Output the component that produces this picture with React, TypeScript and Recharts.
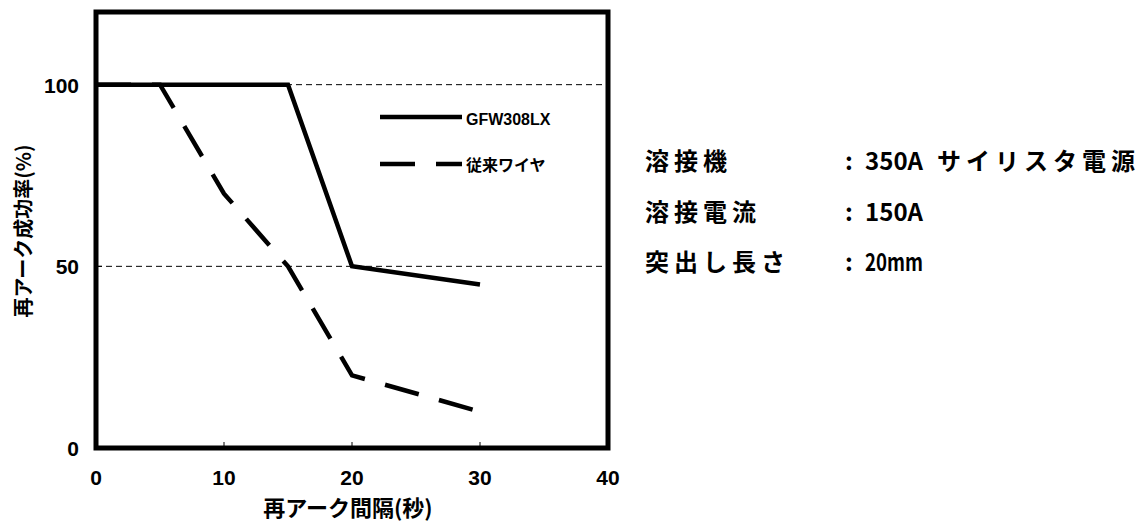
import React from 'react';
import {
  LineChart,
  Line,
  XAxis,
  YAxis,
  CartesianGrid,
  ReferenceArea,
  Legend,
  Label,
} from 'recharts';

// ---- data ----
const intervals = [0, 5, 10, 15, 20, 30];
const gfwValues = [100, 100, 100, 100, 50, 45];
const conventionalValues = [100, 100, 70, 50, 20, 10];
const xTicks = [0, 10, 20, 30, 40];
const yTicks = [0, 50, 100];
const seriesNames = ['GFW308LX', '従来ワイヤ'];
const noteLabels = ['溶接機', '溶接電流', '突出し長さ'];
const noteValues = ['350A', '150A', '20mm'];
const noteSuffix = ['サイリスタ電源', '', ''];

const rows = intervals.map((x, i) => ({
  x,
  gfw: gfwValues[i],
  conv: conventionalValues[i],
}));

const JP = '"Noto Sans CJK JP", "Noto Sans CJK SC", sans-serif';
const LAT = '"Liberation Sans", Arial, sans-serif';

const XTick = (props: any) => {
  const { x, y, payload } = props;
  return (
    <g>
      <line x1={x} y1={y} x2={x} y2={y - 6} stroke="#000" strokeWidth={1} />
      <text x={x} y={y + 37} textAnchor="middle" fontSize={21} fontWeight={700} fontFamily={LAT} fill="#000">
        {payload.value}
      </text>
    </g>
  );
};

const YTick = (props: any) => {
  const { x, y, payload } = props;
  return (
    <g>
      <line x1={x} y1={y} x2={x + 6} y2={y} stroke="#000" strokeWidth={1} />
      <text x={x - 17} y={y + 8} textAnchor="end" fontSize={21} fontWeight={700} fontFamily={LAT} fill="#000">
        {payload.value}
      </text>
    </g>
  );
};

const LegendContent = () => (
  <svg width={220} height={90} style={{ overflow: 'visible' }}>
    <line x1={5} y1={22} x2={87} y2={22} stroke="#000" strokeWidth={4.5} />
    <text x={91} y={30} fontSize={16} fontWeight={700} fontFamily={LAT} fill="#000">
      {seriesNames[0]}
    </text>
    <line x1={5} y1={69} x2={87} y2={69} stroke="#000" strokeWidth={4.5} strokeDasharray="35 21" />
    <text x={91} y={76} fontSize={16} fontWeight={700} fontFamily={JP} fill="#000">
      {seriesNames[1]}
    </text>
  </svg>
);

const Notes = () => {
  const baselines = [170, 221, 271];
  return (
    <svg
      width={1144}
      height={522}
      style={{ position: 'absolute', left: 0, top: 0, pointerEvents: 'none' }}
    >
      {noteLabels.map((lab, i) => (
        <g key={lab} fontFamily={JP} fontWeight={700} fontSize={24} fill="#000">
          <text x={645} y={baselines[i]} letterSpacing={5}>
            {lab}
          </text>
          <text x={845} y={baselines[i]}>:</text>
          <text x={865} y={baselines[i]} textLength={58} lengthAdjust="spacingAndGlyphs">
            {noteValues[i]}
          </text>
          {noteSuffix[i] ? (
            <text x={937} y={baselines[i]} letterSpacing={5}>
              {noteSuffix[i]}
            </text>
          ) : null}
        </g>
      ))}
    </svg>
  );
};

export default function App() {
  return (
    <div style={{ position: 'absolute', left: 0, top: 0, width: 1144, height: 522, background: '#fff' }}>
      <LineChart
        width={1144}
        height={522}
        data={rows}
        margin={{ top: 12, right: 536, bottom: 0, left: 0 }}
      >
        <CartesianGrid vertical={false} stroke="#000" strokeWidth={1} strokeDasharray="6 4" />
        <XAxis
          dataKey="x"
          type="number"
          domain={[0, 40]}
          ticks={xTicks}
          interval={0}
          height={74}
          axisLine={false}
          tickLine={false}
          tickSize={0}
          tickMargin={0}
          tick={<XTick />}
        >
          <Label
            content={() => (
              <text x={348} y={516} textAnchor="middle" fontSize={22} fontWeight={700} fontFamily={JP} fill="#000">
                再アーク間隔(秒)
              </text>
            )}
          />
        </XAxis>
        <YAxis
          type="number"
          domain={[0, 120]}
          ticks={yTicks}
          interval={0}
          width={96}
          axisLine={false}
          tickLine={false}
          tickSize={0}
          tickMargin={0}
          tick={<YTick />}
        >
          <Label
            content={() => (
              <text
                x={22}
                y={231}
                transform="rotate(-90 22 231)"
                textAnchor="middle"
                dominantBaseline="central"
                fontSize={20}
                fontWeight={700}
                fontFamily={JP}
                fill="#000"
              >
                再アーク成功率(%)
              </text>
            )}
          />
        </YAxis>
        <Line
          type="linear"
          dataKey="gfw"
          name={seriesNames[0]}
          stroke="#000"
          strokeWidth={4.5}
          dot={false}
          activeDot={false}
          isAnimationActive={false}
        />
        <Line
          type="linear"
          dataKey="conv"
          name={seriesNames[1]}
          stroke="#000"
          strokeWidth={4.5}
          strokeDasharray="35 21"
          dot={false}
          activeDot={false}
          isAnimationActive={false}
        />
        <ReferenceArea x1={0} x2={40} y1={0} y2={120} fill="none" stroke="#000" strokeWidth={5} ifOverflow="visible" />
        <Legend
          layout="horizontal"
          verticalAlign="middle"
          align="center"
          content={<LegendContent />}
          wrapperStyle={{ left: 375, top: 95, width: 220, height: 90 }}
        />
      </LineChart>
      <Notes />
    </div>
  );
}
